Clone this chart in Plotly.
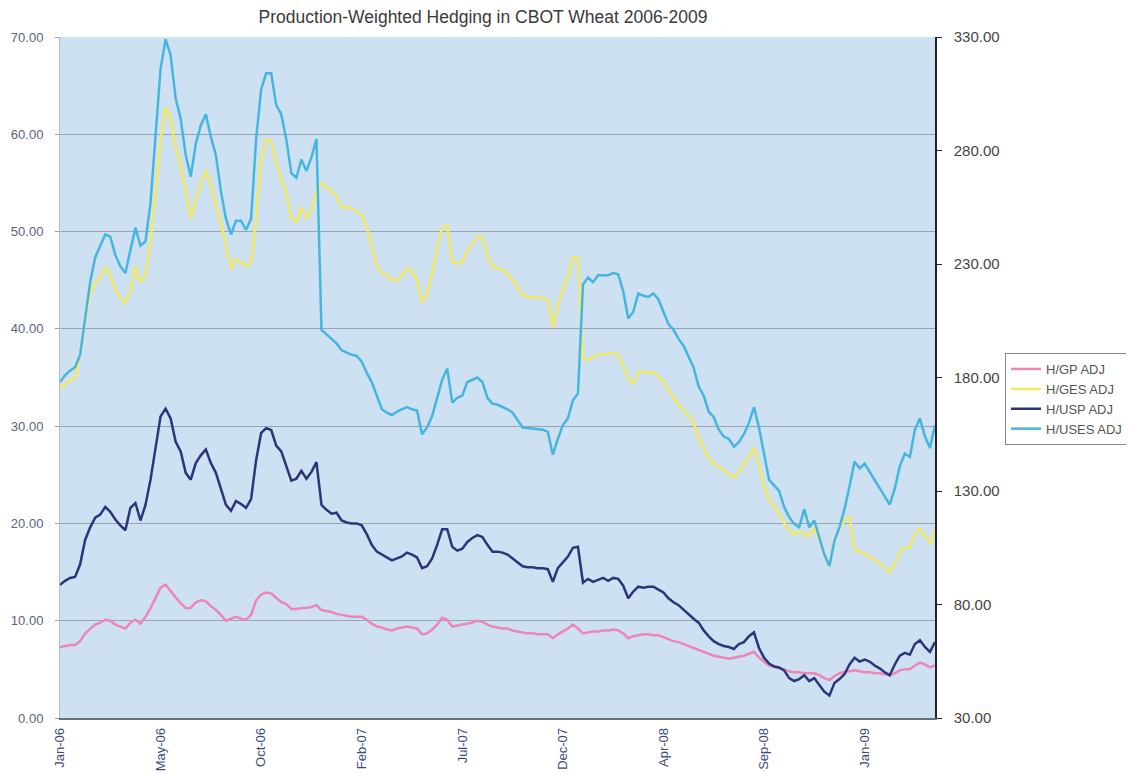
import pandas as pd
import plotly.graph_objects as go

# Weekly observations (Tuesdays) Jan-2006 .. Apr-2009
dates = pd.date_range("2006-01-03", periods=175, freq="7D")

h_gp_adj = [
    7.3, 7.4, 7.5, 7.5, 7.9, 8.7, 9.2, 9.6, 9.8, 10.1,
    10.0, 9.6, 9.4, 9.2, 9.8, 10.1, 9.7, 10.4, 11.3, 12.4,
    13.4, 13.7, 13.0, 12.4, 11.8, 11.3, 11.3, 11.9, 12.1, 12.0,
    11.5, 11.1, 10.6, 10.0, 10.2, 10.4, 10.2, 10.1, 10.6, 12.1,
    12.7, 12.9, 12.8, 12.3, 11.9, 11.7, 11.2, 11.2, 11.3, 11.3,
    11.4, 11.6, 11.1, 11.0, 10.9, 10.7, 10.6, 10.5, 10.4, 10.4,
    10.4, 10.1, 9.7, 9.4, 9.3, 9.1, 9.0, 9.2, 9.3, 9.4,
    9.3, 9.2, 8.6, 8.7, 9.1, 9.6, 10.3, 10.1, 9.4, 9.5,
    9.6, 9.7, 9.8, 10.0, 9.9, 9.6, 9.4, 9.3, 9.2, 9.2,
    9.0, 8.9, 8.8, 8.7, 8.7, 8.6, 8.6, 8.6, 8.2, 8.6,
    8.9, 9.2, 9.6, 9.2, 8.7, 8.8, 8.9, 8.9, 9.0, 9.0,
    9.1, 9.0, 8.7, 8.2, 8.4, 8.5, 8.6, 8.6, 8.5, 8.5,
    8.3, 8.1, 7.9, 7.8, 7.6, 7.4, 7.2, 7.0, 6.8, 6.6,
    6.4, 6.3, 6.2, 6.1, 6.2, 6.3, 6.4, 6.6, 6.8, 6.2,
    5.8, 5.4, 5.3, 5.1, 5.0, 4.8, 4.7, 4.7, 4.6, 4.6,
    4.6, 4.4, 4.1, 3.9, 4.3, 4.6, 4.7, 4.8, 4.9, 4.8,
    4.7, 4.7, 4.6, 4.6, 4.5, 4.4, 4.6, 4.9, 5.0, 5.0,
    5.4, 5.7, 5.5, 5.2, 5.4,
]

h_ges_adj = [
    175, 177, 179, 180, 190, 205, 217, 222, 224, 228.5,
    225, 219, 215, 213, 218, 229, 222, 225, 240, 262,
    285, 299, 294, 281, 273, 262, 250, 258, 266, 271,
    265, 256, 248, 238, 228, 232, 231, 229, 231, 250,
    276, 285, 284, 274, 267, 261, 250, 248.5, 255, 250,
    254, 262, 265.5, 264, 262, 260, 255, 255, 254.5, 253,
    252, 246, 238, 229, 226, 225, 223, 223, 224.5, 228,
    227, 223, 213, 217, 226, 237, 246, 247, 231, 230,
    231, 236, 239, 242, 242, 234, 229, 228, 227.5, 225.5,
    223, 220, 216.5, 215.5, 215.3, 215.2, 215, 214, 202, 212,
    219, 224, 233, 233, 188, 187.7, 189, 190, 190.3, 190.5,
    190.8, 190, 185, 180, 177, 182.5, 182.5, 182, 182.5, 180,
    178, 174.5, 171, 168, 165.5, 163, 160, 153.5, 149, 144.5,
    142, 140.5, 139, 137.8, 136, 138.5, 142, 146, 149, 141,
    132, 126, 123, 120, 116, 113, 110.6, 112.5, 111, 110,
    114, 108.5, 102, 97, 108, 113.5, 117, 118.5, 104, 103.4,
    102.5, 101, 99.8, 98, 96.3, 94.3, 98, 103, 105.3, 105,
    111, 113.5, 110, 107, 112.8,
]

h_usp_adj = [
    13.7, 14.1, 14.4, 14.5, 15.8, 18.3, 19.6, 20.6, 20.9, 21.7,
    21.2, 20.4, 19.8, 19.3, 21.6, 22.1, 20.3, 21.9, 24.5, 28.0,
    31.0, 31.8, 30.8, 28.4, 27.4, 25.2, 24.5, 26.2, 27.0, 27.6,
    26.2, 25.2, 23.5, 21.9, 21.3, 22.3, 22.0, 21.6, 22.5, 26.5,
    29.3, 29.8, 29.6, 28.0, 27.4, 26.0, 24.4, 24.6, 25.4, 24.6,
    25.3, 26.3, 21.9, 21.4, 21.0, 21.1, 20.3, 20.1, 20.0, 20.0,
    19.8, 18.9, 17.8, 17.1, 16.8, 16.5, 16.2, 16.4, 16.6, 17.0,
    16.8, 16.5, 15.4, 15.6, 16.4, 17.8, 19.4, 19.4, 17.6, 17.2,
    17.4, 18.1, 18.5, 18.8, 18.6, 17.8, 17.1, 17.1, 17.0, 16.8,
    16.4, 16.0, 15.6, 15.5, 15.5, 15.4, 15.4, 15.3, 14.0, 15.4,
    16.0, 16.6, 17.5, 17.6, 13.9, 14.3, 14.0, 14.2, 14.4, 14.1,
    14.4, 14.3, 13.6, 12.3, 13.0, 13.5, 13.4, 13.5, 13.5, 13.2,
    12.9, 12.3, 11.9, 11.6, 11.1, 10.6, 10.2, 9.8, 9.0, 8.4,
    7.9, 7.6, 7.4, 7.3, 7.1, 7.6, 7.8, 8.4, 8.8, 7.2,
    6.2, 5.6, 5.3, 5.2, 4.9, 4.1, 3.8, 4.0, 4.4, 3.8,
    4.1, 3.4, 2.7, 2.3, 3.6, 4.0, 4.5, 5.5, 6.2, 5.8,
    6.0, 5.8, 5.4, 5.1, 4.7, 4.4, 5.5, 6.4, 6.7, 6.5,
    7.6, 8.0, 7.3, 6.8, 7.8,
]

h_uses_adj = [
    178, 181, 183, 184.5, 190, 207, 222, 233, 238, 243,
    242, 234, 229, 226, 236, 246, 238, 240, 257, 288,
    316, 329, 322, 303, 294, 278, 268.5, 283, 291, 296,
    286, 278, 262, 250, 243, 249, 249, 245, 250, 285,
    307, 314, 314, 300, 296, 285, 270, 268, 276, 271,
    277, 285, 201, 199, 197, 195, 192, 191, 190, 189.5,
    187, 182, 178, 172, 166, 164.5, 163.5, 165, 166, 167,
    166, 165.5, 155, 158, 163, 171, 179, 184, 169, 171,
    172, 178, 179, 180, 178, 171, 168.5, 168, 167, 166,
    164.5, 161, 158, 157.8, 157.5, 157.2, 157, 156, 146, 153,
    159, 162, 170, 173, 221, 224, 222, 225, 225, 225,
    226, 225.5, 218, 206, 209, 217, 216, 215.5, 217, 214.5,
    209, 203.5, 201, 197, 194, 189, 184.3, 176, 172, 165,
    162.5, 157, 154, 153, 149.5, 151.5, 155, 160, 167, 158,
    146, 135, 132.5, 130, 123, 118.5, 115.5, 114, 122, 114,
    117, 110, 102, 97, 108, 114, 122, 132, 143, 140,
    142, 138.5, 135, 131.5, 128, 124, 131, 141, 146.5, 145,
    157, 162, 154, 149, 159,
]

left_ticks = [0, 10, 20, 30, 40, 50, 60, 70]
right_ticks = [30, 80, 130, 180, 230, 280, 330]
x_tick_vals = list(dates[::20])
x_tick_text = [d.strftime("%b-%y") for d in x_tick_vals]

FONT = "Liberation Sans, Arial, sans-serif"
FIG_W, FIG_H = 1126, 767   # page body adds an 8px margin

fig = go.Figure()
fig.add_trace(go.Scatter(x=dates, y=h_gp_adj, name="H/GP ADJ", mode="lines",
                         line=dict(color="#EE86B6", width=2.5)))
fig.add_trace(go.Scatter(x=dates, y=h_ges_adj, name="H/GES ADJ", mode="lines", yaxis="y2",
                         line=dict(color="#F4EA62", width=2.5)))
fig.add_trace(go.Scatter(x=dates, y=h_usp_adj, name="H/USP ADJ", mode="lines",
                         line=dict(color="#29377A", width=2.5)))
fig.add_trace(go.Scatter(x=dates, y=h_uses_adj, name="H/USES ADJ", mode="lines", yaxis="y2",
                         line=dict(color="#46B6DE", width=2.5)))

fig.update_layout(
    width=FIG_W, height=FIG_H,
    margin=dict(l=52, r=199, t=29, b=57, autoexpand=False),
    paper_bgcolor="white",
    plot_bgcolor="#CDE1F3",
    font=dict(family=FONT, size=13, color="#555"),
    title=dict(text="Production-Weighted Hedging in CBOT Wheat 2006-2009",
               x=(483 - 8) / FIG_W, xanchor="center", y=1 - 3 / FIG_H, yanchor="top",
               pad=dict(t=0, b=0),
               font=dict(family=FONT, size=17.5, color="#3a3a3a")),
    xaxis=dict(range=[dates[0], dates[-1]], tickvals=x_tick_vals, ticktext=x_tick_text,
               tickangle=-90, showgrid=False, zeroline=False, automargin=False,
               showline=True, linecolor="#6b6f78", linewidth=1.5,
               ticks="", ticklabelstandoff=3,
               tickfont=dict(family=FONT, size=13, color="#3c4a80")),
    yaxis=dict(range=[0, 70], tickvals=left_ticks, tickformat=".2f", automargin=False,
               showgrid=True, gridcolor="#9aa3ad", gridwidth=1, zeroline=False,
               showline=True, linecolor="#b4bcc6", linewidth=1,
               ticks="outside", ticklen=4, tickcolor="#9aa3ad", ticklabelstandoff=9,
               tickfont=dict(family=FONT, size=13, color="#5a6282")),
    yaxis2=dict(range=[30, 330], tickvals=right_ticks, tickformat=".2f", automargin=False,
                overlaying="y", side="right", showgrid=False, zeroline=False,
                showline=True, linecolor="#222", linewidth=1.5,
                ticks="outside", ticklen=5, tickcolor="#222", ticklabelstandoff=9,
                tickfont=dict(family=FONT, size=15, color="#454545")),
    legend=dict(x=(1005 - 60) / 875, xanchor="left", y=(718 - 353) / 681, yanchor="top",
                bgcolor="white", bordercolor="#8a8a8a", borderwidth=1,
                itemwidth=30, font=dict(family=FONT, size=13, color="#555"),
                tracegroupgap=0),
    showlegend=True,
)

fig.write_html("out.html")
